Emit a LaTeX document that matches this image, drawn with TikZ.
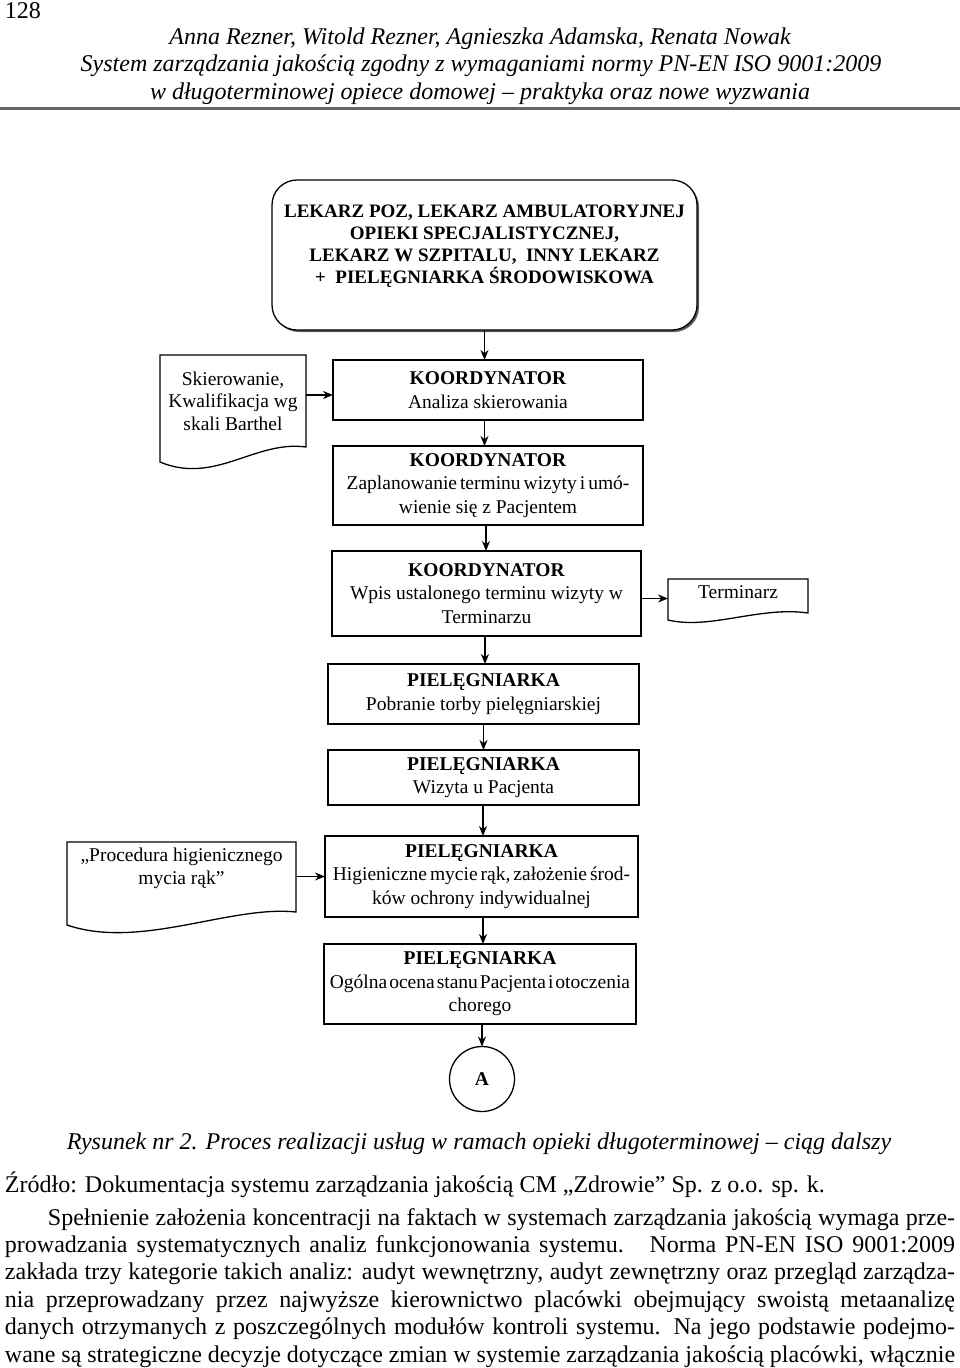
\documentclass[tikz,border=0pt]{standalone}
\usepackage{fontspec}
\setmainfont{Liberation Serif}
\usetikzlibrary{calc,arrows.meta,shadows}
\begin{document}
\begin{tikzpicture}[x=1pt,y=-1pt,
  every node/.style={inner sep=0pt, outer sep=0pt},
  pagetext/.style={font=\fontsize{24}{27.5}\selectfont},
  pageital/.style={font=\fontsize{24}{27.5}\selectfont\itshape},
  proc/.style={draw=black, fill=white, line width=1.3pt, align=center,
    font=\fontsize{19.5}{23.5}\selectfont,
    drop shadow={shadow xshift=1.3pt, shadow yshift=-1.3pt, fill=black!60, opacity=1}},
  topbox/.style={draw=black, fill=white, line width=1.3pt, rounded corners=25pt, align=center,
    font=\fontsize{19}{22}\selectfont\bfseries,
    drop shadow={shadow xshift=2pt, shadow yshift=-2pt, fill=black!65, opacity=1}},
  doctext/.style={align=center, font=\fontsize{19.5}{22.5}\selectfont},
  docshape/.style={draw=black, line width=1.3pt, fill=white},
  flow/.style={-{Stealth[length=10pt,width=8pt]}, line width=1.3pt},
  conn/.style={draw=black, line width=1.3pt, circle, minimum size=65pt, font=\fontsize{19.5}{22}\selectfont\bfseries},
]
\useasboundingbox (0,0) rectangle (960,1368);
\fill[white] (0,0) rectangle (960,1368);

% page header
\node[pagetext, anchor=base west] (pnum) at (5,18) {128};
\node[pageital, anchor=base] (h1) at (480,44) {Anna Rezner, Witold Rezner, Agnieszka Adamska, Renata Nowak};
\node[pageital, anchor=base] (h2) at (481,71) {System zarządzania jakością zgodny z wymaganiami normy PN-EN ISO 9001:2009};
\node[pageital, anchor=base] (h3) at (480,99) {w długoterminowej opiece domowej – praktyka oraz nowe wyzwania};
\draw[line width=3pt, black!60] (0,108) -- (960,108);

% top box
\node[topbox, minimum width=425pt, minimum height=150pt] (top) at (484.5,255)
  {LEKARZ POZ, LEKARZ AMBULATORYJNEJ\\OPIEKI SPECJALISTYCZNEJ,\\LEKARZ W SZPITALU,\ \ INNY LEKARZ\\+\ \ PIELĘGNIARKA ŚRODOWISKOWA\\\mbox{}};

% process boxes
\node[proc, minimum width=310pt, minimum height=60pt] (b1) at (488,390)
  {\textbf{KOORDYNATOR}\\Analiza skierowania};
\node[proc, minimum width=310pt, minimum height=79pt] (b2) at (488,485.5)
  {\textbf{KOORDYNATOR}\\{\spaceskip=3pt\relax Zaplanowanie terminu wizyty i umó-}\\wienie się z Pacjentem};
\node[proc, minimum width=309pt, minimum height=85pt] (b3) at (486.5,593.5)
  {\textbf{KOORDYNATOR}\\Wpis ustalonego terminu wizyty w\\Terminarzu};
\node[proc, minimum width=311pt, minimum height=60pt] (b4) at (483.5,694)
  {\textbf{PIELĘGNIARKA}\\Pobranie torby pielęgniarskiej};
\node[proc, minimum width=311pt, minimum height=55pt] (b5) at (483.5,777.5)
  {\textbf{PIELĘGNIARKA}\\Wizyta u Pacjenta};
\node[proc, minimum width=313pt, minimum height=81pt] (b6) at (481.5,876.5)
  {\textbf{PIELĘGNIARKA}\\{\spaceskip=3pt\relax Higieniczne mycie rąk, założenie środ-}\\ków ochrony indywidualnej};
\node[proc, minimum width=312pt, minimum height=80pt] (b7) at (480,984)
  {\textbf{PIELĘGNIARKA}\\{\spaceskip=2pt\relax Ogólna ocena stanu Pacjenta i otoczenia}\\chorego};
\node[conn] (A) at (482,1079) {A};

% documents
\node[doctext, minimum width=146pt, minimum height=92pt] (sk) at (233,401) {};
\draw[docshape] (sk.north west) -- (sk.north east) -- (sk.south east)
  .. controls ($(sk.south east)+(-51,-7)$) and ($(sk.south west)+(55,38)$) .. ($(sk.south west)+(0,15)$) -- cycle;
\node[doctext] at (sk) {Skierowanie,\\Kwalifikacja wg\\skali Barthel};

\node[doctext, minimum width=140pt, minimum height=26pt] (term) at (738,592) {};
\draw[docshape] (term.north west) -- (term.north east) -- ($(term.south east)+(0,8)$)
  .. controls ($(term.south east)+(-48,1)$) and ($(term.south west)+(42,25)$) .. ($(term.south west)+(0,15)$) -- cycle;
\node[doctext] at (term) {Terminarz};

\node[doctext, minimum width=229pt, minimum height=53pt] (pd) at (181.5,868.5) {};
\draw[docshape] (pd.north west) -- (pd.north east) -- ($(pd.south east)+(0,17)$)
  .. controls ($(pd.south east)+(-66,10)$) and ($(pd.south west)+(73,55)$) .. ($(pd.south west)+(0,30)$) -- cycle;
\node[doctext] at (pd) {„Procedura higienicznego\\mycia rąk”};

% connectors
\coordinate (skout) at ($(sk.east)+(0,-6)$);
\coordinate (b3out) at ($(b3.east)+(0,5)$);
\draw[flow] (top.south) -- (top.south |- b1.north);
\draw[flow] (b1.south -| top.south) -- (b2.north -| top.south);
\draw[flow] ($(b2.south)+(-2,0)$) -- ($(b3.north)+(-0.5,0)$);
\draw[flow] ($(b3.south)+(-1.5,0)$) -- ($(b4.north)+(1.5,0)$);
\draw[flow] (b4.south) -- (b5.north);
\draw[flow] ($(b5.south)+(-0.5,0)$) -- ($(b6.north)+(1.5,0)$);
\draw[flow] ($(b6.south)+(1.5,0)$) -- ($(b7.north)+(3,0)$);
\draw[flow] ($(b7.south)+(2,0)$) -- (A.north);
\draw[flow] (skout) -- (skout -| b1.west);
\draw[flow] (b3out) -- (b3out -| term.west);
\draw[flow] (pd.east |- b6.west) -- (b6.west);

% caption and text
\node[pageital, anchor=base] (cap) at (479,1149) {Rysunek nr 2. Proces realizacji usług w ramach opieki długoterminowej – ciąg dalszy};
\node[pagetext, anchor=base west] (src) at (5,1192) {Źródło: Dokumentacja systemu zarządzania jakością CM „Zdrowie” Sp. z o.o. sp. k.};
\node[pagetext, anchor=base west] (para) at (5,1225) {\parbox[t]{950pt}{\fontsize{24}{27.4}\selectfont
  \parfillskip=0pt \tolerance=10000 \hyphenpenalty=10000 \exhyphenpenalty=10000
  \hspace*{43pt}Spełnienie założenia koncentracji na faktach w systemach zarządzania jakością wymaga prze-\linebreak
  prowadzania systematycznych analiz funkcjonowania systemu. \ Norma PN-EN ISO 9001:2009\linebreak
  zakłada trzy kategorie takich analiz: audyt wewnętrzny, audyt zewnętrzny oraz przegląd zarządza-\linebreak
  nia przeprowadzany przez najwyższe kierownictwo placówki obejmujący swoistą metaanalizę\linebreak
  danych otrzymanych z poszczególnych modułów kontroli systemu. Na jego podstawie podejmo-\linebreak
  wane są strategiczne decyzje dotyczące zmian w systemie zarządzania jakością placówki, włącznie}};
\end{tikzpicture}
\end{document}
